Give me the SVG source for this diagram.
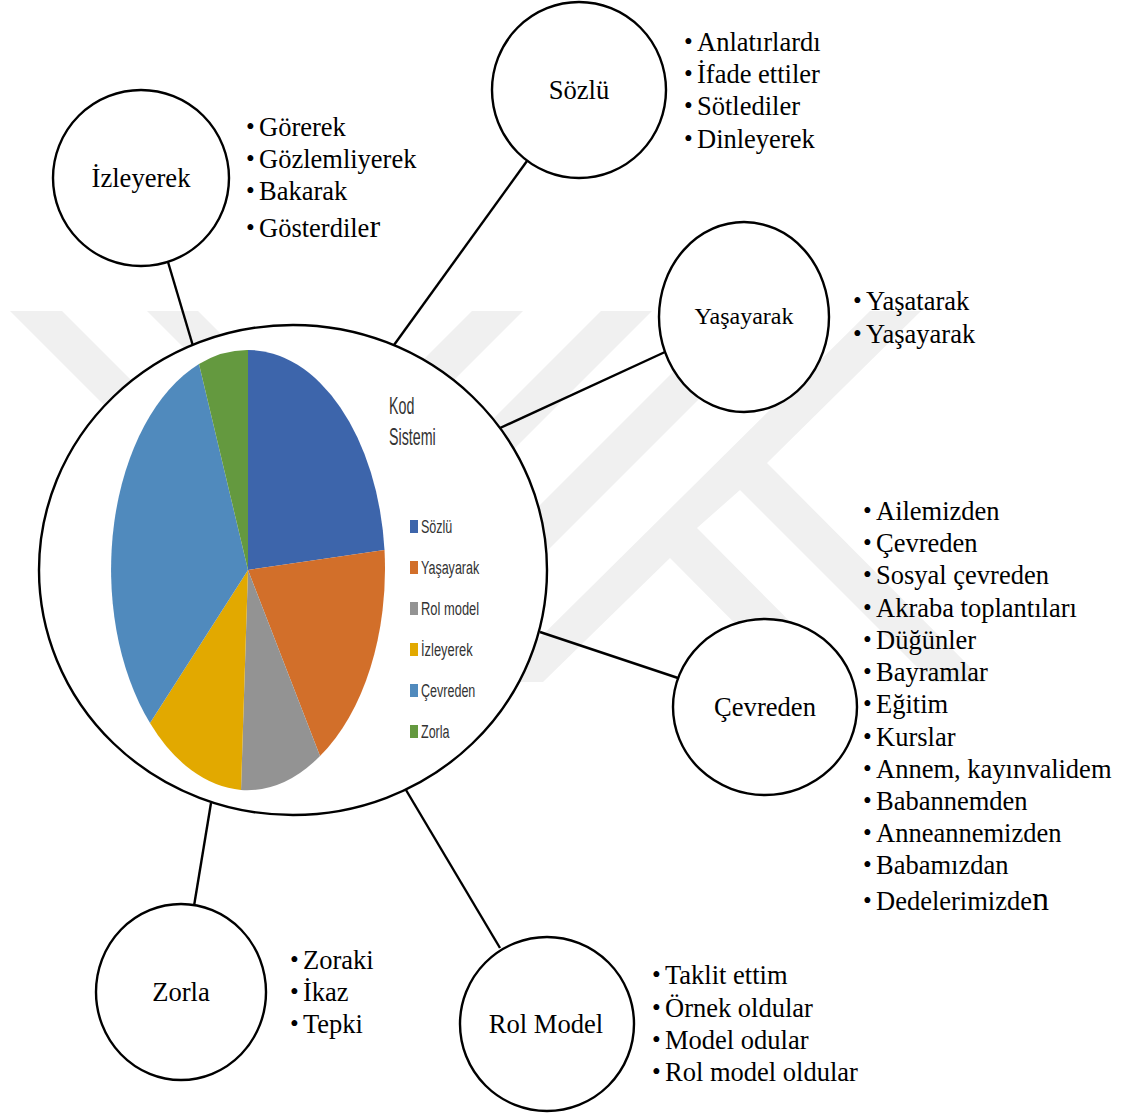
<svg xmlns="http://www.w3.org/2000/svg" width="1126" height="1115" viewBox="0 0 1126 1115">
<style>
.n{fill:#fff;stroke:#000;stroke-width:2.4}
.c{stroke:#000;stroke-width:2.4;fill:none}
text{font-family:"Liberation Serif","Times New Roman",serif;fill:#000}
.t{font-size:26.6px;text-anchor:middle}
.l{font-size:26.5px}
.b{font-size:25px}
.p{font-family:"Liberation Sans",Arial,sans-serif;fill:#333;font-size:19px}
.h{font-size:23px}
.w{fill:#f0f0f0}
</style>
<g id="watermark">
<polygon class="w" points="10,311 62,311 252,501 200,501"/>
<polygon class="w" points="147,311 198,311 388,501 337,501"/>
<polygon class="w" points="472,311 523,311 333,501 282,501"/>
<polygon class="w" points="601,311 652,311 462,501 411,501"/>
<polygon class="w" points="734,311 787,311 537,561 484,561"/>
<polygon class="w" points="870,311 921,311 767,463 985,682 932,682 740,490 697,528 850,682 793,682 670,558 543,682 495,682"/>
</g>
<g id="connectors">
<line class="c" x1="168" y1="262" x2="193" y2="346"/>
<line class="c" x1="527" y1="161" x2="394" y2="345"/>
<line class="c" x1="665" y1="352" x2="500" y2="428"/>
<line class="c" x1="540" y1="632" x2="678" y2="678"/>
<line class="c" x1="406" y1="790" x2="500" y2="948"/>
<line class="c" x1="211" y1="803" x2="194" y2="906"/>
</g>
<g id="hub">
<ellipse class="n" cx="293" cy="570" rx="254" ry="245"/>
<path d="M248 570V350A137 220 0 0 1 384.500 550Z" fill="#3d65ab"/>
<path d="M248 570L384.500 550A137 220 0 0 1 320 756Z" fill="#d26f2a"/>
<path d="M248 570L320 756A137 220 0 0 1 241 790Z" fill="#939393"/>
<path d="M248 570L241 790A137 220 0 0 1 150 723Z" fill="#e2a900"/>
<path d="M248 570L150 723A137 220 0 0 1 199 364Z" fill="#508abd"/>
<path d="M248 570L199 364A137 220 0 0 1 248 350Z" fill="#64993f"/>
<text class="p h" transform="translate(389 414) scale(.62 1)">Kod</text>
<text class="p h" transform="translate(389 445) scale(.62 1)">Sistemi</text>
<rect x="410" y="520" width="8" height="13" fill="#3d65ab"/>
<text class="p" transform="translate(421 533) scale(.66 1)">Sözlü</text>
<rect x="410" y="561" width="8" height="13" fill="#d26f2a"/>
<text class="p" transform="translate(421 574) scale(.66 1)">Yaşayarak</text>
<rect x="410" y="602" width="8" height="13" fill="#939393"/>
<text class="p" transform="translate(421 615) scale(.68 1)">Rol model</text>
<rect x="410" y="643" width="8" height="13" fill="#e2a900"/>
<text class="p" transform="translate(421 656) scale(.68 1)">İzleyerek</text>
<rect x="410" y="684" width="8" height="13" fill="#508abd"/>
<text class="p" transform="translate(421 697) scale(.66 1)">Çevreden</text>
<rect x="410" y="725" width="8" height="13" fill="#64993f"/>
<text class="p" transform="translate(421 738) scale(.66 1)">Zorla</text>
</g>
<g id="node-izleyerek">
<ellipse class="n" cx="141" cy="178" rx="88" ry="88"/>
<text class="t" x="141" y="186.500">İzleyerek</text>
<text class="b" x="246" y="135">•</text><text class="l" x="259" y="135.500">Görerek</text>
<text class="b" x="246" y="167">•</text><text class="l" x="259" y="167.500">Gözlemliyerek</text>
<text class="b" x="246" y="199">•</text><text class="l" x="259" y="199.500">Bakarak</text>
<text class="b" x="246" y="236">•</text><text class="l" x="259" y="236.500">Gösterdile<tspan font-size="32">r</tspan></text>
</g>
<g id="node-sozlu">
<ellipse class="n" cx="579" cy="90" rx="87" ry="88"/>
<text class="t" x="579" y="98.500">Sözlü</text>
<text class="b" x="684" y="50">•</text><text class="l" x="697" y="50.500">Anlatırlardı</text>
<text class="b" x="684" y="82">•</text><text class="l" x="697" y="82.500">İfade ettiler</text>
<text class="b" x="684" y="114">•</text><text class="l" x="697" y="114.500">Sötlediler</text>
<text class="b" x="684" y="147">•</text><text class="l" x="697" y="147.500">Dinleyerek</text>
</g>
<g id="node-yasayarak">
<ellipse class="n" cx="744" cy="317" rx="85" ry="95"/>
<text class="t" x="744" y="324" style="font-size:24px">Yaşayarak</text>
<text class="b" x="853" y="309">•</text><text class="l" x="866" y="309.500">Yaşatarak</text>
<text class="b" x="853" y="342">•</text><text class="l" x="866" y="342.500">Yaşayarak</text>
</g>
<g id="node-cevreden">
<ellipse class="n" cx="765" cy="707" rx="92" ry="88"/>
<text class="t" x="765" y="715.500">Çevreden</text>
<text class="b" x="863" y="519">•</text><text class="l" x="876" y="519.500">Ailemizden</text>
<text class="b" x="863" y="551">•</text><text class="l" x="876" y="551.500">Çevreden</text>
<text class="b" x="863" y="583">•</text><text class="l" x="876" y="583.500">Sosyal çevreden</text>
<text class="b" x="863" y="616">•</text><text class="l" x="876" y="616.500">Akraba toplantıları</text>
<text class="b" x="863" y="648">•</text><text class="l" x="876" y="648.500">Düğünler</text>
<text class="b" x="863" y="680">•</text><text class="l" x="876" y="680.500">Bayramlar</text>
<text class="b" x="863" y="712">•</text><text class="l" x="876" y="712.500">Eğitim</text>
<text class="b" x="863" y="745">•</text><text class="l" x="876" y="745.500">Kurslar</text>
<text class="b" x="863" y="777">•</text><text class="l" x="876" y="777.500">Annem, kayınvalidem</text>
<text class="b" x="863" y="809">•</text><text class="l" x="876" y="809.500">Babannemden</text>
<text class="b" x="863" y="841">•</text><text class="l" x="876" y="841.500">Anneannemizden</text>
<text class="b" x="863" y="873">•</text><text class="l" x="876" y="873.500">Babamızdan</text>
<text class="b" x="863" y="909">•</text><text class="l" x="876" y="909.500">Dedelerimizde<tspan font-size="34">n</tspan></text>
</g>
<g id="node-rolmodel">
<ellipse class="n" cx="547" cy="1024" rx="87" ry="87"/>
<text class="t" x="546" y="1032.500">Rol Model</text>
<text class="b" x="652" y="983">•</text><text class="l" x="665" y="983.500">Taklit ettim</text>
<text class="b" x="652" y="1016">•</text><text class="l" x="665" y="1016.500">Örnek oldular</text>
<text class="b" x="652" y="1048">•</text><text class="l" x="665" y="1048.500">Model odular</text>
<text class="b" x="652" y="1080">•</text><text class="l" x="665" y="1080.500">Rol model oldular</text>
</g>
<g id="node-zorla">
<ellipse class="n" cx="181" cy="992" rx="85" ry="88"/>
<text class="t" x="181" y="1000.500">Zorla</text>
<text class="b" x="290" y="968">•</text><text class="l" x="303" y="968.500">Zoraki</text>
<text class="b" x="290" y="1000">•</text><text class="l" x="303" y="1000.500">İkaz</text>
<text class="b" x="290" y="1032">•</text><text class="l" x="303" y="1032.500">Tepki</text>
</g>
</svg>
